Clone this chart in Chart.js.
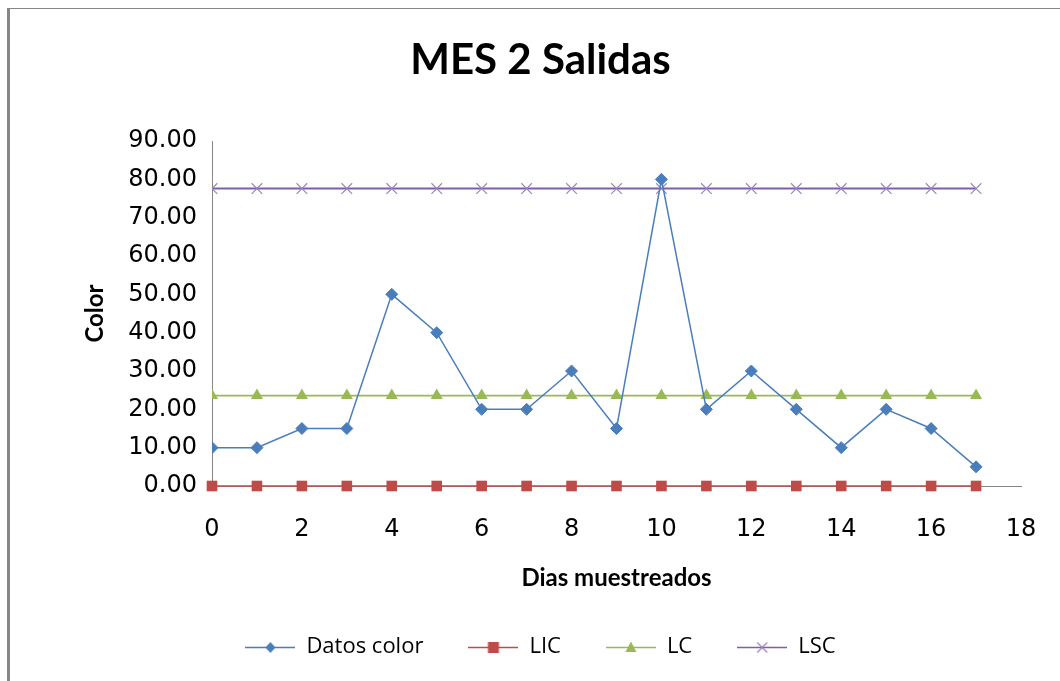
<!DOCTYPE html>
<html>
<head>
<meta charset="utf-8">
<script src="https://cdn.jsdelivr.net/npm/chart.js@4.4.1/dist/chart.umd.min.js"></script>
<style>
  html, body { margin: 0; padding: 0; background: #ffffff; }
  #wrap { position: relative; width: 1060px; height: 681px; overflow: hidden; }
  #frame { position: absolute; left: 7px; top: 8px; right: -10px; bottom: -10px;
           border-left: 3px solid #868686; border-top: 1px solid #868686; pointer-events: none; }
  canvas { position: absolute; left: 0; top: 0; }
</style>
</head>
<body>
<div id="wrap">
  <canvas id="c" width="1060" height="681"></canvas>
  <div id="frame"></div>
</div>
<script>
// Sampling days and measured colour values
const dias = [0, 1, 2, 3, 4, 5, 6, 7, 8, 9, 10, 11, 12, 13, 14, 15, 16, 17];
const datosColor = [10, 10, 15, 15, 50, 40, 20, 20, 30, 15, 80, 20, 30, 20, 10, 20, 15, 5];
// Control limits: lower, centre, upper
const lic = 0;
const lc = 23.6;
const lsc = 77.6;
// Axis ticks
const xTicks = [0, 2, 4, 6, 8, 10, 12, 14, 16, 18];
const yTicks = [0, 10, 20, 30, 40, 50, 60, 70, 80, 90];

const BLUE = '#4A7EBB', RED = '#BE4B48', GREEN = '#98B954', PURPLE = '#7D60A0', XMARK = '#9C86C0', AXIS = '#868686';

const pts = vals => dias.map((d, i) => ({ x: d, y: vals[i] }));
const flat = v => dias.map(d => ({ x: d, y: v }));

// Legend swatch: short line with the series marker in the middle
function swatch(color, style) {
  const c = document.createElement('canvas');
  c.width = 50; c.height = 22;
  const g = c.getContext('2d');
  g.strokeStyle = color; g.lineWidth = 1.5;
  g.beginPath(); g.moveTo(0, 11.5); g.lineTo(50, 11.5); g.stroke();
  g.fillStyle = color;
  const cx = 25, cy = 11.5;
  g.beginPath();
  if (style === 'diamond') {
    g.moveTo(cx, cy - 5.5); g.lineTo(cx + 5, cy); g.lineTo(cx, cy + 5.5); g.lineTo(cx - 5, cy); g.closePath(); g.fill();
  } else if (style === 'square') {
    g.rect(cx - 5.5, cy - 5.5, 11, 11); g.fill();
  } else if (style === 'triangle') {
    g.moveTo(cx, cy - 6); g.lineTo(cx + 5.5, cy + 4.5); g.lineTo(cx - 5.5, cy + 4.5); g.closePath(); g.fill();
  } else {
    g.strokeStyle = XMARK; g.lineWidth = 1.2;
    g.moveTo(cx - 5, cy - 5); g.lineTo(cx + 5, cy + 5); g.moveTo(cx + 5, cy - 5); g.lineTo(cx - 5, cy + 5); g.stroke();
  }
  return c;
}

const datasets = [
  { label: 'Datos color', data: pts(datosColor), borderColor: BLUE, backgroundColor: BLUE,
    borderWidth: 1.5, pointStyle: 'rectRot', pointRadius: 6, pointBorderWidth: 1, legendSwatch: swatch(BLUE, 'diamond') },
  { label: 'LIC', data: flat(lic), borderColor: RED, backgroundColor: RED,
    borderWidth: 1.5, pointStyle: 'rect', pointRadius: 7.5, pointBorderWidth: 0, clip: false, legendSwatch: swatch(RED, 'square') },
  { label: 'LC', data: flat(lc), borderColor: GREEN, backgroundColor: GREEN,
    borderWidth: 1.8, pointStyle: 'triangle', pointRadius: 7, pointBorderWidth: 0, legendSwatch: swatch(GREEN, 'triangle') },
  { label: 'LSC', data: flat(lsc), borderColor: PURPLE, backgroundColor: PURPLE,
    borderWidth: 2, pointStyle: 'crossRot', pointRadius: 7.5, pointBorderColor: XMARK, pointBorderWidth: 1.2, legendSwatch: swatch(PURPLE, 'x') }
];

new Chart(document.getElementById('c'), {
  type: 'line',
  data: { datasets },
  options: {
    responsive: false,
    animation: false,
    layout: { padding: { left: 60, right: 39, top: 0, bottom: 13 } },
    elements: { line: { tension: 0 } },
    plugins: {
      title: {
        display: true, text: 'MES 2 Salidas', color: '#000',
        font: { family: 'Lato', size: 42, weight: 'bold' },
        padding: { top: 35, bottom: 55.6 }
      },
      legend: {
        position: 'bottom',
        labels: {
          color: '#000', font: { family: 'Open Sans', size: 22 },
          usePointStyle: true, pointStyleWidth: 50, boxHeight: 22, padding: 45,
          generateLabels: chart => chart.data.datasets.map((ds, i) => ({
            text: ds.label, pointStyle: ds.legendSwatch, datasetIndex: i,
            fillStyle: ds.borderColor, strokeStyle: ds.borderColor, lineWidth: 0, hidden: false, fontColor: '#000'
          }))
        }
      },
      tooltip: { enabled: false }
    },
    scales: {
      x: {
        type: 'linear', min: 0, max: 18, z: 1,
        afterBuildTicks: s => { s.ticks = xTicks.map(v => ({ value: v })); },
        afterFit: s => { s.height = 105; s.paddingLeft = 0; s.paddingRight = 0; },
        grid: { display: false, drawTicks: false },
        border: { display: true, color: AXIS, width: 1 },
        ticks: { color: '#000', padding: 29, maxRotation: 0, font: { family: 'DejaVu Sans', size: 24 } },
        title: { display: true, text: 'Dias muestreados', color: '#000',
                 font: { family: 'Lato', size: 24, weight: 'bold' }, padding: { top: 0, bottom: -1.4 } }
      },
      y: {
        min: 0, max: 90,
        afterBuildTicks: s => { s.ticks = yTicks.map(v => ({ value: v })); },
        afterFit: s => { s.width = 152; },
        grid: { display: false, drawTicks: false },
        border: { display: true, color: AXIS, width: 1 },
        ticks: { color: '#000', padding: 15, font: { family: 'DejaVu Sans', size: 24 },
                 callback: v => Number(v).toFixed(2) },
        title: { display: true, text: 'Color', color: '#000',
                 font: { family: 'Lato', size: 24, weight: 'bold' }, padding: { top: 20.6, bottom: 0 } }
      }
    }
  }
});
</script>
</body>
</html>
